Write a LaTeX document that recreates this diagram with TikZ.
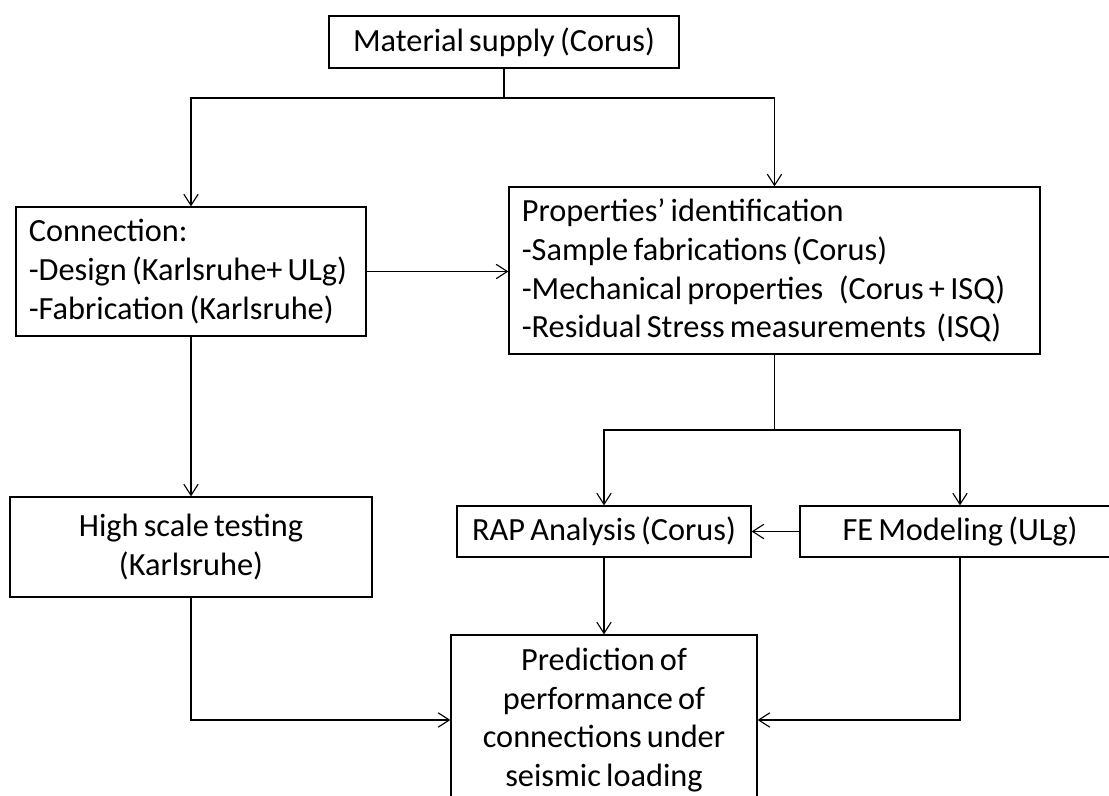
\documentclass[tikz,border=0pt]{standalone}
\usepackage{fontspec}
\setmainfont{Carlito}
\usepackage{tikz}
\usetikzlibrary{arrows.meta,positioning,calc}
\newcommand{\boxfont}{\fontsize{23}{27.6}\selectfont\spaceskip=0.16em\relax}
\tikzset{
  box/.style={draw, line width=0.9pt, align=center, inner sep=0pt,
              font=\boxfont},
  listbox/.style={box, align=flush left, inner xsep=0.32cm},
  arr/.style={-{Straight Barb[length=2.8mm,width=3.6mm]}, line width=0.8pt},
  wire/.style={line width=0.8pt},
}

\begin{document}
\begin{tikzpicture}
    \useasboundingbox (0,0) rectangle (27.725,-19.9);
    \clip (0,0) rectangle (27.725,-19.9);

    \node[box, minimum width=8.75cm, minimum height=1.3cm] (mat) at (12.6,-1.05) {Material supply (Corus)};

    \node[listbox, text width=8.11cm, minimum height=3.225cm] (conn) at (4.775,-6.7875)
      {Connection:\\-Design (Karlsruhe+ ULg)\\-Fabrication (Karlsruhe)};
    \node[listbox, text width=12.635cm, minimum height=4.175cm] (props) at (19.3625,-6.7625)
      {Properties’ identification\\-Sample fabrications (Corus)\\-Mechanical properties\ \ \ (Corus + ISQ)\\-Residual Stress measurements\ \ (ISQ)};

    \node[box, minimum width=9.05cm, minimum height=2.5cm] (high) at (4.775,-13.675) {High scale testing\\(Karlsruhe)};
    \node[box, minimum width=7.35cm, minimum height=1.275cm] (rap) at (15.1,-13.2875) {RAP Analysis (Corus)};
    \node[box, minimum width=8.0cm, minimum height=1.275cm] (fe) at (24.0,-13.2875) {FE Modeling (ULg)};

    \node[box, minimum width=7.65cm, minimum height=4.25cm] (pred) at (15.1,-18.0)
      {Prediction of\\performance of\\connections under\\seismic loading};

    \coordinate (split1) at (12.6,-2.45);
    \coordinate (split2) at (19.3625,-10.75);

    \draw[wire] (mat.south) -- (split1);
    \draw[arr] (split1) -| (conn.north);
    \draw[arr] (split1) -| (props.north);
    \draw[arr] (conn.east) -- (conn.east -| props.west);

    \draw[wire] (props.south) -- (split2);
    \draw[arr] (split2) -| (rap.north);
    \draw[arr] (split2) -| (fe.north);
    \draw[arr] (fe.west) -- (rap.east);

    \draw[arr] (conn.south) -- (high.north);
    \draw[arr] (rap.south) -- (pred.north);
    \draw[arr] (high.south) |- (pred.west);
    \draw[arr] (fe.south) |- (pred.east);
  \end{tikzpicture}
\end{document}
